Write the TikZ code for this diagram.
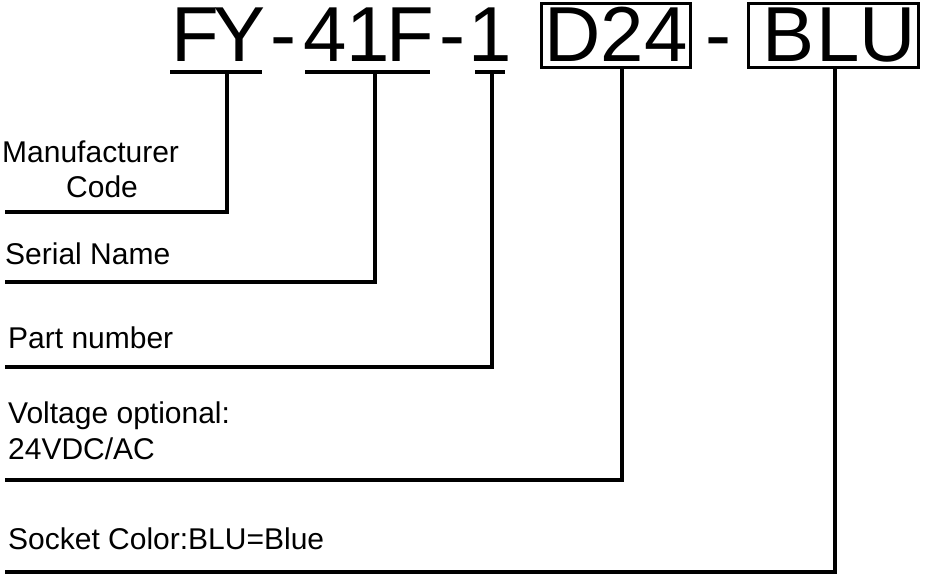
\documentclass[tikz,border=0pt]{standalone}
\usepackage{fontspec}
\setmainfont{Liberation Sans}
\begin{document}
\begin{tikzpicture}[x=1pt,y=-1pt]
  \tikzset{lead/.style={line width=4pt},
           code/.style={font=\fontsize{78}{80}\selectfont, inner sep=0pt, anchor=base},
           lbl/.style={font=\fontsize{30}{34}\selectfont, inner sep=0pt, anchor=base west}}
  \useasboundingbox (0,0) rectangle (933,575);

  % part number characters
  \foreach \c/\x in {F/195,Y/240,-/283,4/325,1/368,F/410,-/452,1/490,//522,D/573,2/622,4/666,-/718,B/788,L/838,U/888}
    \node[code] at (\x,62) {\c};

  % boxes
  \draw[line width=3pt] (541,4) rectangle (690,68);
  \draw[line width=3pt] (748,4) rectangle (918,68);

  % underlines
  \draw[lead] (170,72) -- (262,72);
  \draw[lead] (305,72) -- (430,72);
  \draw[lead] (475,72) -- (505,72);

  % leaders
  \coordinate (fy) at (227,72);
  \coordinate (sn) at (375,72);
  \coordinate (pn) at (492,72);
  \coordinate (vo) at (622,68);
  \coordinate (sc) at (835,68);
  \draw[lead] (fy) |- (5,212);
  \draw[lead] (sn) |- (5,282);
  \draw[lead] (pn) |- (5,367);
  \draw[lead] (vo) |- (5,480);
  \draw[lead] (sc) |- (5,572);

  % labels
  \node[lbl] (mc) at (2,162) {Manufacturer};
  \node[lbl] (cd) at (66,197) {Code};
  \node[lbl] (sr) at (5,264) {Serial Name};
  \node[lbl] (pt) at (8,348) {Part number};
  \node[lbl] (vl) at (8,423) {Voltage optional:};
  \node[lbl] (vv) at (8,459) {24VDC/AC};
  \node[lbl] (so) at (8,549) {Socket Color:BLU=Blue};
\end{tikzpicture}
\end{document}
